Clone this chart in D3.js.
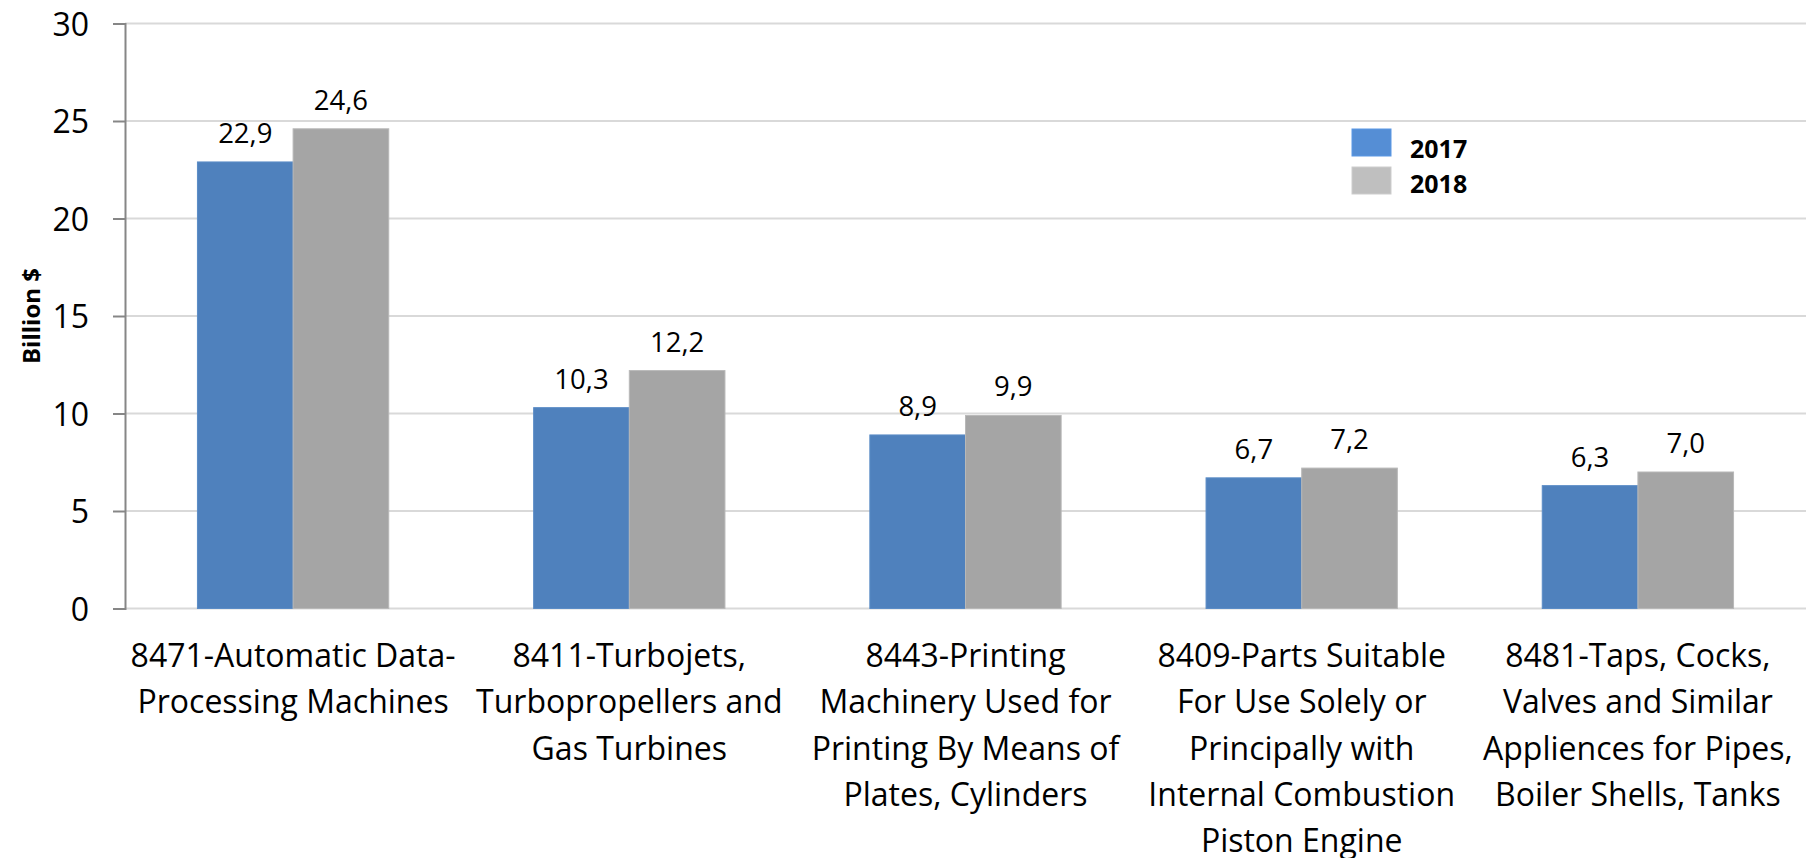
<!DOCTYPE html>
<html><head><meta charset="utf-8">
<script src="https://cdn.jsdelivr.net/npm/d3@7"></script>
<style>
html,body{margin:0;padding:0;background:#fff;}
svg{display:block;font-family:"Open Sans", Lato, sans-serif;}
</style></head>
<body>
<svg id="chart" width="1806" height="858"></svg>
<script>
const categories = ["8471", "8411", "8443", "8409", "8481"];
const categoryLines = [
  ["8471-Automatic Data-", "Processing Machines"],
  ["8411-Turbojets,", "Turbopropellers and", "Gas Turbines"],
  ["8443-Printing", "Machinery Used for", "Printing By Means of", "Plates, Cylinders"],
  ["8409-Parts Suitable", "For Use Solely or", "Principally with", "Internal Combustion", "Piston Engine"],
  ["8481-Taps, Cocks,", "Valves and Similar", "Appliences for Pipes,", "Boiler Shells, Tanks"]
];
const seriesNames = ["2017", "2018"];
const values2017 = [22.9, 10.3, 8.9, 6.7, 6.3];
const values2018 = [24.6, 12.2, 9.9, 7.2, 7.0];
const yTicks = [0, 5, 10, 15, 20, 25, 30];
const yTitle = "Billion $";

const barColors = ["#4F81BD", "#A5A5A5"];
const barStroke = ["#5b8cc6", "#b8b8b8"];
const legendColors = ["#558ED5", "#BFBFBF"];

const svg = d3.select("#chart");
const plotL = 125, plotR = 1806, plotT = 23.5, plotB = 608.5;

const x = d3.scaleBand().domain(categories).range([plotL, plotR]).paddingInner(0.431).paddingOuter(0.2155);
const xs = d3.scaleBand().domain(seriesNames).range([0, x.bandwidth()]);
const y = d3.scaleLinear().domain([0, 30]).range([plotB, plotT]);

// gridlines
svg.append("g").selectAll("line").data(yTicks).join("line")
  .attr("x1", plotL).attr("x2", plotR)
  .attr("y1", d => y(d)).attr("y2", d => y(d))
  .attr("stroke", "#d9d9d9").attr("stroke-width", 2);

// bars
const series = [values2017, values2018];
const gBars = svg.append("g");
series.forEach((vals, si) => {
  gBars.selectAll(null).data(vals).join("rect")
    .attr("x", (d, i) => x(categories[i]) + xs(seriesNames[si]))
    .attr("width", xs.bandwidth())
    .attr("y", d => y(d))
    .attr("height", d => y(0) - y(d))
    .attr("fill", barColors[si])
    .attr("stroke", barStroke[si]).attr("stroke-width", 1);
  gBars.selectAll(null).data(vals).join("text")
    .attr("x", (d, i) => x(categories[i]) + xs(seriesNames[si]) + xs.bandwidth() / 2)
    .attr("y", d => y(d) - 19)
    .attr("text-anchor", "middle")
    .attr("font-size", 27.5)
    .attr("fill", "#000")
    .text(d => d.toFixed(1).replace(".", ","));
});

// y axis
const yAxis = d3.axisLeft(y).tickValues(yTicks).tickSize(12).tickPadding(24).tickFormat(d3.format("d"));
const gy = svg.append("g").attr("transform", `translate(${plotL},0)`).call(yAxis);
gy.select(".domain").attr("stroke", "#868686").attr("stroke-width", 2);
gy.selectAll(".tick line").attr("stroke", "#868686").attr("stroke-width", 2);
gy.selectAll(".tick text").attr("font-size", 32).attr("fill", "#000").attr("font-family", "Open Sans").attr("dy", "0.36em");

// y title
svg.append("text")
  .attr("transform", `translate(39.5,316) rotate(-90)`)
  .attr("text-anchor", "middle")
  .attr("font-size", 24).attr("font-weight", "bold")
  .text(yTitle);

// category labels
const gx = svg.append("g");
categories.forEach((c, i) => {
  const t = gx.append("text")
    .attr("x", x(c) + x.bandwidth() / 2)
    .attr("y", 667)
    .attr("text-anchor", "middle")
    .attr("font-size", 32).attr("fill", "#000");
  categoryLines[i].forEach((line, li) => {
    t.append("tspan").attr("x", x(c) + x.bandwidth() / 2).attr("y", 667 + li * 46.3).text(line);
  });
});

// legend
const lg = svg.append("g");
seriesNames.forEach((s, i) => {
  lg.append("rect").attr("x", 1352).attr("y", 129 + i * 38).attr("width", 39).attr("height", 27)
    .attr("fill", legendColors[i]).attr("stroke", d3.color(legendColors[i]).brighter(0.2)).attr("stroke-width", 1);
  lg.append("text").attr("x", 1410).attr("y", 158 + i * 34.5)
    .attr("font-size", 25).attr("font-weight", "bold").text(s);
});
</script>
</body></html>
